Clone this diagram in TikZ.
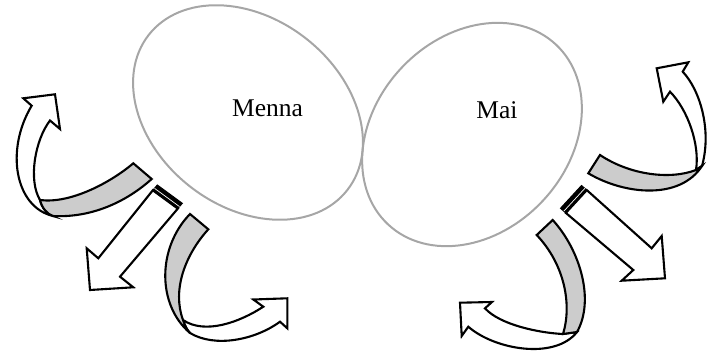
\documentclass[tikz,border=0pt]{standalone}
\usepackage{fontspec}
\setmainfont{Liberation Serif}
\usetikzlibrary{shapes.geometric}
\definecolor{ringgray}{HTML}{A6A6A6}
\definecolor{bandgray}{HTML}{CCCCCC}
\begin{document}
\begin{tikzpicture}[x=1pt,y=-1pt,
  ring/.style={ellipse, draw=ringgray, line width=2pt, inner sep=0pt},
  lbl/.style={anchor=base, inner sep=0pt, font=\fontsize{25.5}{30}\selectfont},
  front/.style={draw=black, fill=white, line width=2.1pt, line join=miter},
  back/.style={draw=black, fill=bandgray, line width=2.1pt, line join=miter},
  endbar/.style={draw=black, fill=black, line width=1pt},
  barline/.style={draw=white, line width=0.7pt}]
\useasboundingbox (0,0) rectangle (707,353);
% ellipses
\node[ring, minimum width=252pt, minimum height=188pt, rotate=-38] (menna) at (248,112.5) {};
\node[ring, minimum width=246pt, minimum height=194pt, rotate=47] (mai) at (472,134.5) {};
\node[lbl] (mennaL) at (267.5,116.7) {Menna};
\node[lbl] (maiL) at (497,118.5) {Mai};
% A1: upper-left curved arrow
\draw[front] (53,216) .. controls (15,207) and (5,150) .. (31.7,105.7) -- (23.3,98.3) -- (55,94.3) -- (60,129) -- (50,120.5) .. controls (35,140) and (28,180) .. (40,200) .. controls (42,208) and (47,214) .. (53,216) -- cycle;
\draw[back] (133.3,163.3) -- (151.7,179) .. controls (125,203) and (90,218) .. (53,216) .. controls (47,214) and (42,208) .. (40,200) .. controls (70,204) and (110,183) .. (133.3,163.3) -- cycle;
% A2: straight arrow down-left
\draw[front] (152.8,190.3) -- (98.3,258.3) -- (86.7,248.3) -- (90,290) -- (133.3,287.3) -- (120,276.7) -- (177.8,208.6) -- cycle;
\draw[endbar] (157.3,185) -- (182.3,203.3) -- (177.8,208.6) -- (152.8,190.3) -- cycle;
\draw[barline] (154.5,188.3) -- (179.5,206.6);
% A3: lower-left curved arrow
\draw[front] (190,333) .. controls (215,348) and (255,340) .. (280,321.7) -- (287.3,328.3) -- (287.3,298.3) -- (253.3,299.5) -- (263.3,306.7) .. controls (240,322) and (205,335) .. (183,320) .. controls (185,326) and (187,330) .. (190,333) -- cycle;
\draw[back] (190,214) -- (208.3,229.3) .. controls (185,255) and (172,290) .. (183,320) .. controls (185,326) and (187,330) .. (190,333) .. controls (157,305) and (157,248) .. (190,214) -- cycle;
% A4: upper-right curved arrow
\draw[front] (702,166) .. controls (712,130) and (700,90) .. (682.7,71.7) -- (688.3,62.3) -- (656.7,68.3) -- (663.3,101.7) -- (670,91.7) .. controls (688,110) and (700,145) .. (696,170) -- cycle;
\draw[back] (600,155) -- (588.3,173.3) .. controls (625,195) and (680,200) .. (702,166) -- (696,170) .. controls (670,180) and (630,175) .. (600,155) -- cycle;
% A5: straight arrow down-right
\draw[front] (586.8,190.1) -- (651.7,248.3) -- (661.7,236) -- (665,278.3) -- (621.7,280.7) -- (633.3,270) -- (565.8,212.9) -- cycle;
\draw[endbar] (581.5,185.5) -- (586.8,190.1) -- (565.8,212.9) -- (560.5,208.3) -- cycle;
\draw[barline] (584.8,188.4) -- (563.8,211.2);
% A6: lower-right curved arrow
\draw[front] (563,334) .. controls (540,333) and (500,325) .. (485,308.3) -- (492,302) -- (460,302.7) -- (461.7,336) -- (468.3,326.7) .. controls (495,350) and (555,360) .. (577,332) -- cycle;
\draw[back] (536.7,235) -- (552.7,220) .. controls (580,250) and (595,300) .. (577,332) -- (563,334) .. controls (572,305) and (565,265) .. (536.7,235) -- cycle;
\end{tikzpicture}
\end{document}
